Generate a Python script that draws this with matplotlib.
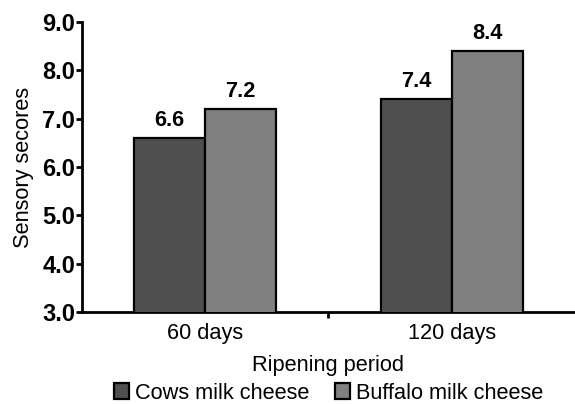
import matplotlib
matplotlib.use("Agg")
import matplotlib.pyplot as plt
import numpy as np
from matplotlib.ticker import FixedLocator

categories = ["60 days", "120 days"]
series_names = ["Cows milk cheese", "Buffalo milk cheese"]
cows = [6.6, 7.4]
buffalo = [7.2, 8.4]
yticks = [3.0, 4.0, 5.0, 6.0, 7.0, 8.0, 9.0]

plt.rcParams['font.family'] = ['Liberation Sans', 'DejaVu Sans']
FS = 15.7

fig = plt.figure(figsize=(5.75, 4.04), dpi=100)
ax = fig.add_axes([0.1426, 0.2277, 0.8574, 0.7178])

x = np.arange(len(categories))
w = 0.288
colors = ["#4f4f4f", "#808080"]
b1 = ax.bar(x - w/2, cows, w, bottom=0, color=colors[0], edgecolor="black", linewidth=1.6, label=series_names[0], zorder=3)
b2 = ax.bar(x + w/2, buffalo, w, bottom=0, color=colors[1], edgecolor="black", linewidth=1.6, label=series_names[1], zorder=3)

for bars, vals in ((b1, cows), (b2, buffalo)):
    for rect, v in zip(bars, vals):
        ax.text(rect.get_x() + rect.get_width()/2, v + 0.15, f"{v:.1f}", ha="center", va="bottom",
                fontsize=FS, fontweight="bold")

ax.set_ylim(3.0, 9.0)
ax.set_xlim(-0.5, 1.5)
ax.set_yticks(yticks)
ax.set_yticklabels([f"{t:.1f}" for t in yticks], fontsize=17, fontweight="bold")
ax.set_xticks(x)
ax.set_xticklabels(categories, fontsize=FS)
ax.tick_params(axis="x", which="major", length=0, pad=8)
ax.xaxis.set_minor_locator(FixedLocator([0.5]))
ax.tick_params(axis="x", which="minor", length=4, width=2, direction="out")
ax.tick_params(axis="y", length=4, width=2, pad=1)

for s in ["top", "right"]:
    ax.spines[s].set_visible(False)
for s in ["left", "bottom"]:
    ax.spines[s].set_linewidth(2)

ax.set_ylabel("Sensory secores", fontsize=FS, labelpad=6)
ax.set_xlabel("Ripening period", fontsize=FS, labelpad=8)

fig.legend(handles=[b1, b2], labels=series_names, loc="center", bbox_to_anchor=(0.5713, 0.027),
           ncol=2, frameon=False, fontsize=FS, handlelength=0.7, handleheight=0.7,
           handletextpad=0.25, columnspacing=1.2, borderpad=0.0)

fig.savefig("out.png", dpi=100)
